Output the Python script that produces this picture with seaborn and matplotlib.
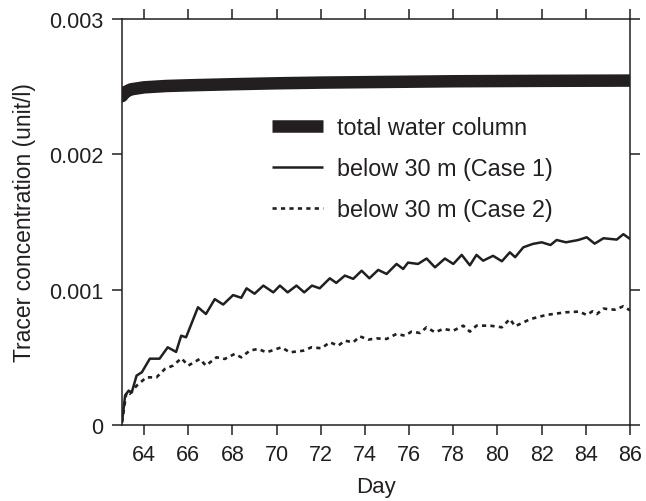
import numpy as np
import pandas as pd
import matplotlib
matplotlib.use("Agg")
import matplotlib.pyplot as plt
import seaborn as sns

# ---------------- data ----------------
total_day = [63.0, 63.15, 63.4, 64.0, 65.0, 66.0, 68.0, 70.0, 72.0, 75.0, 78.0, 82.0, 86.0]
total_val = [0.00243, 0.00246, 0.00248, 0.002495, 0.002505, 0.00251, 0.002518,
             0.002525, 0.00253, 0.002535, 0.00254, 0.002543, 0.002545]

case1_day = [63.0, 63.14, 63.3, 63.44, 63.66, 63.9, 64.26, 64.7, 65.07, 65.45, 65.68,
             65.9, 66.44, 66.8, 67.2, 67.58, 68.03, 68.4, 68.64, 69.0, 69.4, 69.85,
             70.15, 70.5, 70.9, 71.25, 71.6, 71.95, 72.41, 72.7, 73.09, 73.47, 73.85,
             74.2, 74.6, 74.98, 75.43, 75.73, 75.95, 76.4, 76.79, 77.17, 77.62, 78.0,
             78.38, 78.75, 79.05, 79.35, 79.8, 80.2, 80.56, 80.8, 81.17, 81.6, 82.0,
             82.4, 82.68, 83.1, 83.66, 84.04, 84.4, 84.8, 85.4, 85.7, 86.0]
case1_val = [0.00002, 0.000217, 0.000254, 0.00024, 0.000365, 0.00039, 0.00049, 0.00049,
             0.000574, 0.00054, 0.00066, 0.000648, 0.00087, 0.00082, 0.00093, 0.00089,
             0.00096, 0.00094, 0.00101, 0.00097, 0.00103, 0.00098, 0.00103, 0.00098,
             0.00103, 0.00098, 0.00103, 0.00101, 0.001084, 0.00105, 0.001104, 0.00108,
             0.00114, 0.001084, 0.001146, 0.001116, 0.00119, 0.001153, 0.0012, 0.00119,
             0.00123, 0.001165, 0.00123, 0.00119, 0.001257, 0.00118, 0.001257, 0.001214,
             0.00125, 0.00121, 0.001276, 0.00124, 0.001313, 0.001338, 0.00135, 0.00133,
             0.001367, 0.00135, 0.001367, 0.001387, 0.00134, 0.00138, 0.00137, 0.00141,
             0.001375]

case2_day = [63.0, 63.2, 63.35, 63.66, 64.1, 64.56, 64.94, 65.31, 65.69, 66.0, 66.52,
             66.8, 67.28, 67.65, 68.1, 68.4, 68.79, 69.16, 69.54, 70.22, 70.6, 71.2,
             71.58, 72.03, 72.41, 72.79, 73.09, 73.47, 73.77, 74.15, 74.52, 74.98,
             75.43, 75.81, 76.11, 76.49, 76.79, 77.17, 77.55, 78.0, 78.45, 78.75,
             79.05, 79.66, 80.2, 80.56, 80.8, 81.5, 82.2, 83.1, 83.7, 84.04, 84.3,
             84.5, 84.8, 85.3, 85.7, 86.0]
case2_val = [0.00002, 0.000242, 0.00023, 0.00029, 0.000352, 0.000352, 0.000414, 0.000439,
             0.000493, 0.000439, 0.000488, 0.000439, 0.0005, 0.000488, 0.000525, 0.0005,
             0.00055, 0.000562, 0.000537, 0.000574, 0.000537, 0.000549, 0.000574,
             0.000567, 0.000611, 0.000586, 0.000623, 0.000611, 0.000655, 0.000631,
             0.00064, 0.000636, 0.000673, 0.00066, 0.00069, 0.00068, 0.000722, 0.000685,
             0.00071, 0.000697, 0.000734, 0.00069, 0.000734, 0.000734, 0.000722,
             0.000783, 0.00073, 0.000783, 0.000813, 0.000833, 0.000838, 0.000813,
             0.00084, 0.00082, 0.00086, 0.000852, 0.000877, 0.000847]

series_labels = ["total water column", "below 30 m (Case 1)", "below 30 m (Case 2)"]
x_ticks = [64, 66, 68, 70, 72, 74, 76, 78, 80, 82, 84, 86]
y_ticks = [0, 0.001, 0.002, 0.003]
y_tick_labels = ["0", "0.001", "0.002", "0.003"]

# ---------------- styling ----------------
sns.set_theme(style="ticks")
ink = "#231f20"
plt.rcParams["font.family"] = ["Liberation Sans", "DejaVu Sans"]
plt.rcParams["text.color"] = ink
plt.rcParams["axes.labelcolor"] = ink
plt.rcParams["xtick.color"] = ink
plt.rcParams["ytick.color"] = ink

fig = plt.figure(figsize=(6.46, 5.02), dpi=100)
ax = fig.add_axes([122 / 646, 1 - 426 / 502, (630 - 122) / 646, (426 - 20) / 502])

df_total = pd.DataFrame({"day": total_day, "val": total_val})
df_c1 = pd.DataFrame({"day": case1_day, "val": case1_val})
df_c2 = pd.DataFrame({"day": case2_day, "val": case2_val})

sns.lineplot(data=df_total, x="day", y="val", ax=ax, color=ink, lw=9,
             estimator=None, sort=False, label=series_labels[0],
             solid_capstyle="round")
sns.lineplot(data=df_c1, x="day", y="val", ax=ax, color=ink, lw=1.8,
             estimator=None, sort=False, label=series_labels[1],
             solid_joinstyle="round")
sns.lineplot(data=df_c2, x="day", y="val", ax=ax, color=ink, lw=1.9,
             estimator=None, sort=False, label=series_labels[2],
             linestyle=(0, (1.6, 1.6)))

ax.set_xlim(63, 86)
ax.set_ylim(0, 0.003)
ax.set_xticks(x_ticks)
ax.set_xticklabels([str(t) for t in x_ticks])
ax.set_yticks(y_ticks)
ax.set_yticklabels(y_tick_labels)

for s in ax.spines.values():
    s.set_visible(True)
    s.set_linewidth(1.1)
    s.set_color(ink)

ax.tick_params(axis="both", which="major", direction="out", length=7.5, width=1.1,
               top=True, right=True, labeltop=False, labelright=False,
               labelsize=15.5, pad=6)

ax.set_xlabel("Day", fontsize=16, labelpad=8)
ax.set_ylabel("Tracer concentration (unit/l)", fontsize=16.5, labelpad=9)

handles, labels = ax.get_legend_handles_labels()
leg = ax.legend(handles, labels, loc="upper left",
                bbox_to_anchor=(272 / 646, 1 - 117 / 502),
                bbox_transform=fig.transFigure, frameon=False,
                fontsize=16.8, handlelength=2.2, handletextpad=0.6,
                labelspacing=0.78, borderpad=0, borderaxespad=0)
for t in leg.get_texts():
    t.set_color(ink)
for lh in leg.get_lines():
    lh.set_solid_capstyle("butt")

fig.savefig("out.png", dpi=100)
